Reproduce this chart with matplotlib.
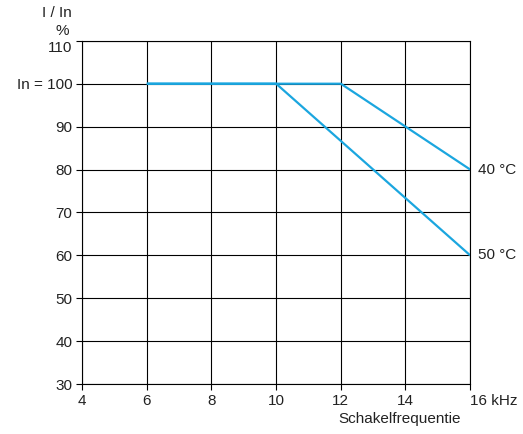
import matplotlib
matplotlib.use("Agg")
from matplotlib import pyplot as plt
from matplotlib.transforms import ScaledTranslation

plt.rcParams['font.family'] = ['Liberation Sans', 'DejaVu Sans']

# data
freq_40 = [6, 12, 16]
curr_40 = [100, 100, 80]
freq_50 = [6, 10, 16]
curr_50 = [100, 100, 60]
xticks = [4, 6, 8, 10, 12, 14, 16]
xlabels = ['4', '6', '8', '10', '12', '14', '16 kHz']
yticks = [30, 40, 50, 60, 70, 80, 90, 100, 110]
ylabels = ['30', '40', '50', '60', '70', '80', '90', 'In = 100', '110']

col = '#1ba6df'
fs = 11

fig = plt.figure(figsize=(5.23, 4.34), dpi=100)
ax = fig.add_axes([0.157, 0.115, 0.742, 0.791])

ax.plot(freq_50, curr_50, color=col, lw=1.6, solid_capstyle='butt', zorder=3)
ax.plot(freq_40, curr_40, color=col, lw=1.6, solid_capstyle='butt', zorder=3)

ax.set_xlim(4, 16)
ax.set_ylim(30, 110)
ax.set_xticks(xticks)
ax.set_xticklabels(xlabels, fontsize=fs, color='#222222')
ax.set_yticks(yticks)
ax.set_yticklabels(ylabels, fontsize=fs, color='#222222')
ax.tick_params(length=4, width=0.8, color='black', pad=3)
ax.grid(True, color='black', lw=0.8)
for s in ax.spines.values():
    s.set_linewidth(0.8)

# "16 kHz": number sits at the tick
for lbl in ax.get_xticklabels():
    if lbl.get_text() == '16 kHz':
        lbl.set_horizontalalignment('left')
        lbl.set_x(15.77)
# top label sits a bit lower in the original
for lbl in ax.get_yticklabels():
    if lbl.get_text() == '110':
        lbl.set_transform(lbl.get_transform() + ScaledTranslation(0, -0.06, fig.dpi_scale_trans))

ax.text(16.25, 80, '40 °C', fontsize=fs, va='center', ha='left', color='#222222')
ax.text(16.25, 60, '50 °C', fontsize=fs, va='center', ha='left', color='#222222')

fig.text(0.109, 0.970, 'I / In', fontsize=fs, ha='center', va='center', color='#222222')
fig.text(0.119, 0.928, '%', fontsize=fs, ha='center', va='center', color='#222222')
fig.text(0.882, 0.035, 'Schakelfrequentie', fontsize=fs, ha='right', va='center', color='#222222')

fig.savefig('out.png', dpi=100)
